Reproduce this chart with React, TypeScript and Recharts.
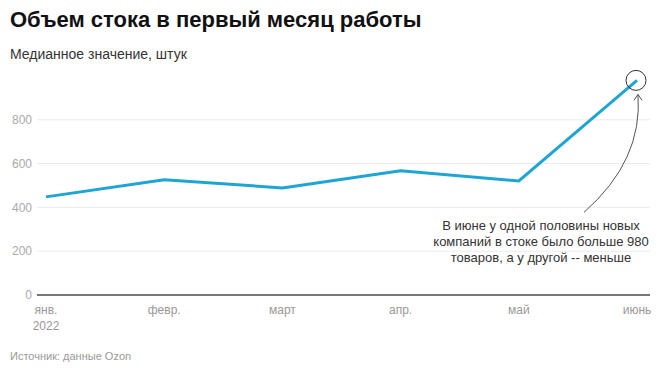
import React from 'react';
import { LineChart, Line, XAxis, YAxis, ReferenceLine, ReferenceDot } from 'recharts';

const months = ['янв.', 'февр.', 'март', 'апр.', 'май', 'июнь'];
const stock = [448, 526, 489, 567, 521, 980];
const yTicks = [0, 200, 400, 600, 800];

const data = months.map((m, i) => ({ month: m, stock: stock[i] }));

const font = '"Liberation Sans", Arial, sans-serif';

const MonthTick = (props: any) => {
  const { x, y, payload, index } = props;
  return (
    <g>
      <text x={x} y={y + 11} textAnchor="middle" fontSize={12} fill="#999" fontFamily={font}>
        {payload.value}
      </text>
      {index === 0 && (
        <text x={x} y={y + 27} textAnchor="middle" fontSize={12} fill="#999" fontFamily={font}>
          2022
        </text>
      )}
    </g>
  );
};

// circle round the June point, curved arrow and the note under it
const JuneNote = (props: any) => {
  const { cx, cy } = props;
  if (cx == null || cy == null) return null;
  const ax = cx + 1;
  const ay = cy + 14;
  return (
    <g>
      <circle cx={cx - 1} cy={cy} r={10} fill="none" stroke="#333" strokeWidth={1} />
      <path
        d={`M${cx - 53},${cy + 132} Q${cx + 6},${cy + 80} ${ax},${ay}`}
        fill="none"
        stroke="#555"
        strokeWidth={1}
      />
      <path d={`M${ax - 4},${ay + 6} L${ax},${ay} L${ax + 4},${ay + 6}`} fill="none" stroke="#555" strokeWidth={1} />
      <text textAnchor="middle" fontSize={13} fill="#333" fontFamily={font}>
        <tspan x={cx - 96} y={cy + 150}>В июне у одной половины новых</tspan>
        <tspan x={cx - 96} y={cy + 166}>компаний в стоке было больше 980</tspan>
        <tspan x={cx - 96} y={cy + 182}>товаров, а у другой -- меньше</tspan>
      </text>
    </g>
  );
};

export default function App() {
  return (
    <div style={{ position: 'absolute', left: 0, top: 0, width: 664, height: 375, background: '#fff', fontFamily: font }}>
      <div style={{ position: 'absolute', left: 10, top: 7, fontSize: 22, fontWeight: 700, color: '#111', whiteSpace: 'nowrap' }}>
        Объем стока в первый месяц работы
      </div>
      <div style={{ position: 'absolute', left: 10, top: 46, fontSize: 14, color: '#333', whiteSpace: 'nowrap' }}>
        Медианное значение, штук
      </div>
      <LineChart width={664} height={375} data={data} margin={{ top: 76, right: 14, bottom: 50, left: 0 }}>
        {/* grid lines only at the labelled ticks */}
        {yTicks.slice(1).map((t) => (
          <ReferenceLine key={t} y={t} stroke="#ebebeb" />
        ))}
        <XAxis
          dataKey="month"
          tick={<MonthTick />}
          tickLine={false}
          axisLine={{ stroke: '#777', strokeWidth: 2 }}
          padding={{ left: 9, right: 13 }}
          interval={0}
          height={30}
        />
        <YAxis
          domain={[0, 1000]}
          ticks={yTicks}
          width={37}
          tickLine={false}
          axisLine={false}
          tickSize={3}
          tickMargin={2}
          tick={{ fontSize: 12, fill: '#aaa', fontFamily: font }}
        />
        <Line
          type="linear"
          dataKey="stock"
          stroke="#1fa5d4"
          strokeWidth={3}
          dot={false}
          activeDot={false}
          isAnimationActive={false}
        />
        <ReferenceDot x={months[5]} y={stock[5]} shape={<JuneNote />} />
      </LineChart>
      <div style={{ position: 'absolute', left: 10, top: 350, fontSize: 11, color: '#999', whiteSpace: 'nowrap' }}>
        Источник: данные Ozon
      </div>
    </div>
  );
}
